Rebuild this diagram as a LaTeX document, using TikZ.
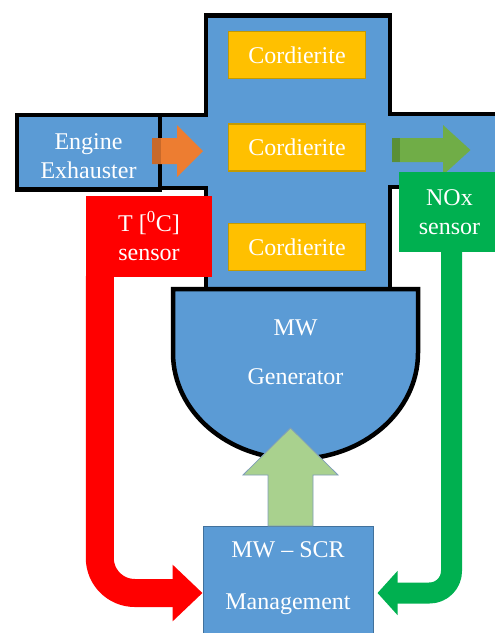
\documentclass[tikz,border=0pt]{standalone}
\usepackage{fontspec}
\setmainfont{Liberation Serif}
\usetikzlibrary{arrows.meta,calc}
\definecolor{pipeblue}{HTML}{5B9BD5}
\definecolor{cordfill}{HTML}{FFC000}
\definecolor{cordline}{HTML}{C49A00}
\definecolor{tred}{HTML}{FF0000}
\definecolor{ngreen}{HTML}{00B050}
\definecolor{lgreen}{HTML}{A9D18E}
\definecolor{lgline}{HTML}{7F9DB9}
\definecolor{scrline}{HTML}{41719C}
\definecolor{orangeA}{HTML}{ED7D31}
\definecolor{orangeD}{HTML}{C8692A}
\definecolor{garrow}{HTML}{70AD47}
\definecolor{garrowD}{HTML}{5A8F38}
\begin{document}
\begin{tikzpicture}[x=1pt,y=-1pt,
  txt/.style={text=white,font=\fontsize{24}{29}\selectfont,align=center,inner sep=0pt},
  cord/.style={fill=cordfill,draw=cordline,line width=1.2pt,minimum width=137pt,minimum height=47pt,txt},
  outline/.style={line width=4.5pt,line join=miter,draw=black},
  bandarrow/.style={line width=#1,line join=round}
]
\clip (0,0) rectangle (495,633);
% pipe and housing
\fill[pipeblue] (160,115) -- (206,115) -- (206,15.5) -- (390,15.5) -- (390,114) -- (500,114)
  -- (500,187) -- (390,187) -- (390,292) -- (206,292) -- (206,188) -- (160,188) -- cycle;
\draw[outline] (160,115) -- (206,115) -- (206,15.5) -- (390,15.5) -- (390,114) -- (500,114);
\draw[outline] (500,187) -- (390,187) -- (390,291);
\draw[outline] (160,188) -- (206,188) -- (206,291);
% cordierite
\node[cord] (c1) at (297,55) {Cordierite};
\node[cord] (c2) at (297,147.5) {Cordierite};
\node[cord] (c3) at (297,247) {Cordierite};
% engine
\node[outline,fill=pipeblue,minimum width=143pt,minimum height=74.5pt] (engine) at (88.5,152.25) {};
\node[txt] (enginetext) at (88.5,156.5) {Engine\\Exhauster};
% flow arrows in pipe
\fill[orangeA] (152,138) -- (177,138) -- (177,125) -- (203,151) -- (177,177) -- (177,164) -- (152,164) -- cycle;
\fill[orangeD] (152,138) rectangle (161,164);
\fill[garrow] (392,138) -- (443,138) -- (443,125) -- (470.5,150) -- (443,175) -- (443,162) -- (392,162) -- cycle;
\fill[garrowD] (392,138) rectangle (400,162);
% generator
\draw[outline,fill=pipeblue] (173,289) -- (173,353)
  arc[start angle=180,end angle=360,x radius=122.5pt,y radius=106pt] -- (418,289) -- cycle;
\node[txt] (gen) at (295.5,352) {MW\\[20pt]Generator};
% control box
\node[draw=scrline,line width=1pt,fill=pipeblue,minimum width=170pt,minimum height=134pt] (scr) at (288,593) {};
\node[txt] (scrtext) at (288,578) {MW \textendash{} SCR\\[23pt]Management};
% power arrow up
\draw[fill=lgreen,draw=lgline,line width=0.8pt] (268,526) -- (268,475) -- (243,475) -- (290.5,428)
  -- (338,475) -- (313,475) -- (313,526) -- cycle;
% sensors
\node[fill=tred,minimum width=126pt,minimum height=81pt,txt] (tsens) at (149,236.5) {T [\textsuperscript{0}C]\\sensor};
\node[fill=ngreen,minimum width=101pt,minimum height=80pt,txt] (nox) at (449.5,212) {NOx\\sensor};
\draw[bandarrow=28pt,tred,rounded corners=35pt,-{Triangle[length=30pt,width=55pt]}]
  ($(tsens.south west)+(14,-1)$) |- (scr.west);
\draw[bandarrow=21pt,ngreen,rounded corners=22pt,-{Triangle[length=20pt,width=43pt]}]
  ($(nox.south)+(2,-1)$) |- ($(scr.east)+(4,0)$);
\end{tikzpicture}
\end{document}
